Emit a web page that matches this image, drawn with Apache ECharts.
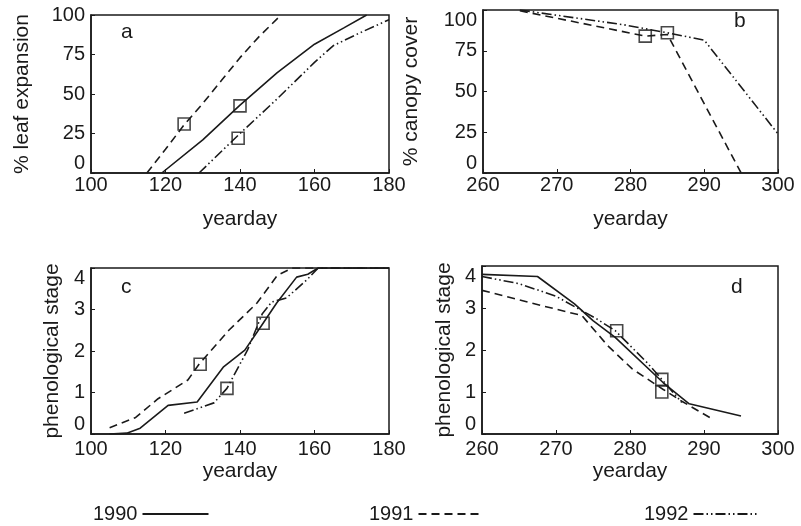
<!DOCTYPE html>
<html>
<head>
<meta charset="utf-8">
<script src="https://cdn.jsdelivr.net/npm/echarts@6/dist/echarts.min.js"></script>
<style>
html,body{margin:0;padding:0;background:#fff;}
#c{width:801px;height:526px;}
</style>
</head>
<body>
<div id="c"></div>
<script>
// ---------- data ----------
const seriesNames = ['1990', '1991', '1992'];

// panel a: % leaf expansion vs yearday
const a1990 = [[119,0],[130,21],[140,43],[150,63.5],[160,81.5],[168,92],[174,100]];
const a1991 = [[115,0],[120,15],[125,30.5],[130,44],[135,58.5],[140,73],[145,86],[151,100]];
const a1992 = [[129,0],[140,25],[150,47],[160,70],[165,80.5],[172,88.5],[180,97]];
const aSquares = [[125,31],[140,42.5],[139.5,22]];

// panel b: % canopy cover vs yearday
const b1991 = [[265,99.5],[282,84],[285,85],[295,0]];
const b1992 = [[265,100],[279,91],[285,86],[290,81.5],[300,24]];
const bSquares = [[282,84],[285,86]];

// panel c: phenological stage (spring)
const c1990 = [[105,0],[109.6,0.02],[113.2,0.14],[120.7,0.69],[128.5,0.77],[135.5,1.61],[141.3,2.02],[146.2,2.67],[149.8,3.15],[155.2,3.78],[158.2,3.85],[161,4],[180,4]];
const c1991 = [[105,0.15],[112,0.4],[118,0.85],[126,1.3],[129,1.68],[137,2.5],[144.5,3.15],[150,3.82],[154,4],[180,4]];
const c1992 = [[125,0.5],[133,0.75],[136.5,1.1],[142,2.02],[146,2.9],[148.5,3.18],[152.5,3.28],[158,3.72],[161,4],[180,4]];
const cSquares = [[129.3,1.68],[136.5,1.1],[146.2,2.67]];

// panel d: phenological stage (autumn)
const d1990 = [[260,3.8],[267.5,3.75],[272.5,3.1],[275,2.7],[278,2.3],[284.5,1.22],[288,0.72],[295,0.43]];
const d1991 = [[260,3.42],[268,3.06],[273.5,2.82],[277,2.1],[280.3,1.55],[284.5,1.06],[287,0.78],[291,0.37]];
const d1992 = [[260,3.75],[265,3.58],[270,3.28],[275.5,2.74],[278,2.46],[282.3,1.7],[284.3,1.3],[287,0.75]];
const dSquares = [[278.2,2.46],[284.3,1.3],[284.3,1.0]];

// tick labels
const xTicksSpring = [100,120,140,160,180];
const xTicksAutumn = [260,270,280,290,300];
const yTicksPct = [0,25,50,75,100];
const yTicksStage = [0,1,2,3,4];

// ---------- styles ----------
const INK = '#1a1a1a';
const FONT = 'Liberation Sans';
const lineTypes = {
  '1990': 'solid',
  '1991': [8, 5],
  '1992': [10, 3, 1.5, 3, 1.5, 3]
};

function xAxis(gi, min, max, ticks, margin, gap) {
  return {
    type: 'value', gridIndex: gi, min: min, max: max,
    name: 'yearday', nameLocation: 'middle', nameGap: gap,
    nameTextStyle: {fontFamily: FONT, fontSize: 21, color: INK},
    axisLine: {show: true, lineStyle: {color: INK, width: 1.5}},
    axisTick: {show: true, inside: true, length: 4, customValues: ticks, lineStyle: {color: INK}},
    axisLabel: {customValues: ticks, margin: margin, fontFamily: FONT, fontSize: 20, color: INK},
    splitLine: {show: false}
  };
}
function yAxis(gi, min, max, ticks, name, gap, alignMin, alignMax) {
  const o = {
    type: 'value', gridIndex: gi, min: min, max: max,
    name: name, nameLocation: 'middle', nameGap: gap, nameRotate: 90,
    nameTextStyle: {fontFamily: FONT, fontSize: 21, color: INK},
    axisLine: {show: true, lineStyle: {color: INK, width: 1.5}},
    axisTick: {show: true, inside: true, length: 4, customValues: ticks, lineStyle: {color: INK}},
    minorTick: {show: false},
    axisLabel: {customValues: ticks, margin: 6, fontFamily: FONT, fontSize: 20, color: INK},
    splitLine: {show: false}
  };
  if (alignMin) o.axisLabel.verticalAlignMinLabel = alignMin;
  if (alignMax) o.axisLabel.verticalAlignMaxLabel = alignMax;
  return o;
}
function lineSeries(name, gi, data) {
  return {
    type: 'line', name: name, xAxisIndex: gi, yAxisIndex: gi, data: data,
    symbol: 'none', smooth: false, clip: true,
    lineStyle: {color: INK, width: 1.6, type: lineTypes[name]},
    itemStyle: {color: INK},
    silent: true, animation: false
  };
}
function squareSeries(gi, data) {
  return {
    type: 'scatter', name: 'obs', xAxisIndex: gi, yAxisIndex: gi, data: data,
    symbol: 'rect', symbolSize: 12,
    itemStyle: {color: 'rgba(255,255,255,0)', borderColor: INK, borderWidth: 1.6},
    silent: true, animation: false, z: 5
  };
}

const grids = [
  {left: 91, top: 15, width: 298, height: 158},
  {left: 483, top: 10, width: 295, height: 163},
  {left: 91, top: 268, width: 298, height: 166},
  {left: 482, top: 266, width: 296, height: 168}
].map(g => Object.assign({show: true, borderColor: INK, borderWidth: 1.5, backgroundColor: 'transparent'}, g));

function letter(text, x, y) {
  return {type: 'text', left: x, top: y, style: {text: text, fontFamily: FONT, fontSize: 21, fill: INK}};
}
function legendFor(name, left, width) {
  return {
    data: [name], left: left, top: 499, align: 'right', itemWidth: width, itemHeight: 14,
    itemStyle: {opacity: 0},
    textStyle: {fontFamily: FONT, fontSize: 20, color: INK}, selectedMode: false
  };
}

const option = {
  animation: false,
  backgroundColor: '#fff',
  grid: grids,
  xAxis: [
    xAxis(0, 100, 180, xTicksSpring, 2, 36),
    xAxis(1, 260, 300, xTicksAutumn, 2, 36),
    xAxis(2, 100, 180, xTicksSpring, 5, 27),
    xAxis(3, 260, 300, xTicksAutumn, 5, 27)
  ],
  yAxis: [
    yAxis(0, 0, 100, yTicksPct, '% leaf expansion', 58, 'bottom', null),
    yAxis(1, 0, 100, yTicksPct, '% canopy cover', 61, 'bottom', 'top'),
    yAxis(2, 0, 4, yTicksStage, 'phenological stage', 28, 'bottom', 'top'),
    yAxis(3, 0, 4, yTicksStage, 'phenological stage', 27, 'bottom', 'top')
  ],
  legend: [
    legendFor('1990', 88, 66),
    legendFor('1991', 364, 60),
    legendFor('1992', 639, 64)
  ],
  graphic: [
    letter('a', 121, 22),
    letter('b', 734, 11),
    letter('c', 121, 277),
    letter('d', 731, 277)
  ],
  series: [
    lineSeries('1990', 0, a1990),
    lineSeries('1991', 0, a1991),
    lineSeries('1992', 0, a1992),
    squareSeries(0, aSquares),
    lineSeries('1991', 1, b1991),
    lineSeries('1992', 1, b1992),
    squareSeries(1, bSquares),
    lineSeries('1990', 2, c1990),
    lineSeries('1991', 2, c1991),
    lineSeries('1992', 2, c1992),
    squareSeries(2, cSquares),
    lineSeries('1990', 3, d1990),
    lineSeries('1991', 3, d1991),
    lineSeries('1992', 3, d1992),
    squareSeries(3, dSquares)
  ]
};

const chart = echarts.init(document.getElementById('c'), null, {renderer: 'canvas'});
chart.setOption(option);
</script>
</body>
</html>
